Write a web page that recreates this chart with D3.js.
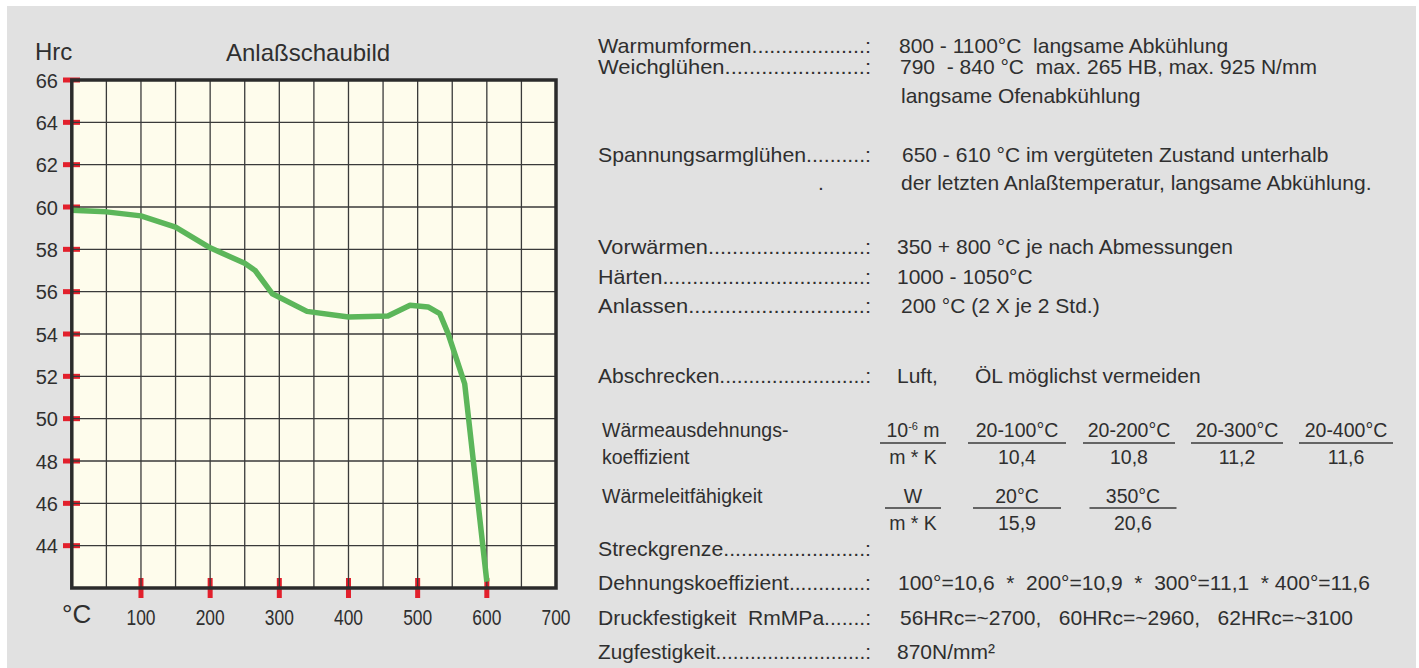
<!DOCTYPE html>
<meta charset="utf-8">
<style>
    body { margin: 0; background: #fff; }
    svg text { font-family: "Liberation Sans", Arial, sans-serif; fill: #2f2f2f; white-space: pre; }
</style>
<svg width="1419" height="668"></svg>
<script src="https://d3js.org/d3.v7.min.js"></script>
<script>
    // Anlaßschaubild: hardness (HRc) over tempering temperature
    var temps = [0, 50, 100, 150, 200, 250, 265, 290, 340, 400, 457, 489, 515, 532, 544, 556, 568, 600];
    var hrc = [59.85, 59.77, 59.58, 59.05, 58.07, 57.34, 57.0, 55.9, 55.07, 54.8, 54.85, 55.36, 55.28, 54.96, 54.02, 52.84, 51.65, 42.3];

    var xTickLabels = [100, 200, 300, 400, 500, 600, 700];
    var xRedTicks = [100, 200, 300, 400, 500, 600];
    var yTickLabels = [44, 46, 48, 50, 52, 54, 56, 58, 60, 62, 64, 66];

    // right hand text block
    var upperLabels = ["Warmumformen...................:", "Weichglühen.......................:", "", "Spannungsarmglühen..........:", "."];
    var upperValues = ["800 - 1100°C  langsame Abkühlung", "790  - 840 °C  max. 265 HB, max. 925 N/mm",
        "langsame Ofenabkühlung", "650 - 610 °C im vergüteten Zustand unterhalb",
        "der letzten Anlaßtemperatur, langsame Abkühlung."];
    var midLabels = ["Vorwärmen..........................:", "Härten..................................:",
        "Anlassen.............................:", "Abschrecken.........................:"];
    var midValues = ["350 + 800 °C je nach Abmessungen", "1000 - 1050°C", "200 °C (2 X je 2 Std.)", "Luft,"];
    var abschreckenNote = "ÖL möglichst vermeiden";

    var tableRowLabels = ["Wärmeausdehnungs-", "koeffizient", "Wärmeleitfähigkeit"];
    var expansionRanges = ["20-100°C", "20-200°C", "20-300°C", "20-400°C"];
    var expansionValues = ["10,4", "10,8", "11,2", "11,6"];
    var conductTemps = ["20°C", "350°C"];
    var conductValues = ["15,9", "20,6"];

    var lowerLabels = ["Streckgrenze........................:", "Dehnungskoeffizient.............:",
        "Druckfestigkeit  RmMPa.......:", "Zugfestigkeit..........................:"];
    var lowerValues = ["", "100°=10,6  *  200°=10,9  *  300°=11,1  * 400°=11,6",
        "56HRc=~2700,   60HRc=~2960,   62HRc=~3100", "870N/mm²"];

    var svg = d3.select("svg");

    svg.append("rect").attr("x", 7).attr("y", 6).attr("width", 1409).attr("height", 662).attr("fill", "#e1e1e1");

    // ---------- chart ----------
    var x = d3.scaleLinear().domain([0, 700]).range([71.8, 556]);
    var y = d3.scaleLinear().domain([42, 66]).range([588, 80]);

    svg.append("rect")
        .attr("x", x(0)).attr("y", y(66))
        .attr("width", x(700) - x(0)).attr("height", y(42) - y(66))
        .attr("fill", "#fefcec");

    var red = "#e2202c";
    svg.append("g").selectAll("rect")
        .data(yTickLabels)
        .enter().append("rect")
        .attr("x", 63).attr("y", function(d) { return y(d) - 2.5; })
        .attr("width", 17).attr("height", 5)
        .attr("fill", red);

    svg.append("g").selectAll("rect")
        .data(xRedTicks)
        .enter().append("rect")
        .attr("x", function(d) { return x(d) - 2.5; }).attr("y", 578)
        .attr("width", 5).attr("height", 20)
        .attr("fill", red);

    var grid = svg.append("g").attr("stroke", "#3a3a3a").attr("stroke-width", 1.3);
    grid.selectAll(".gx")
        .data(d3.range(50, 700, 50))
        .enter().append("line")
        .attr("x1", x).attr("x2", x)
        .attr("y1", y(66)).attr("y2", y(42));
    grid.selectAll(".gy")
        .data(d3.range(44, 66, 2))
        .enter().append("line")
        .attr("x1", x(0)).attr("x2", x(700))
        .attr("y1", y).attr("y2", y);

    var line = d3.line()
        .x(function(d) { return x(d[0]); })
        .y(function(d) { return y(d[1]); });

    svg.append("path")
        .datum(d3.zip(temps, hrc))
        .attr("d", line)
        .attr("fill", "none")
        .attr("stroke", "#5cb65a")
        .attr("stroke-width", 5.5)
        .attr("stroke-linejoin", "round");

    svg.append("rect")
        .attr("x", x(0)).attr("y", y(66))
        .attr("width", x(700) - x(0)).attr("height", y(42) - y(66))
        .attr("fill", "none").attr("stroke", "#2b2b2b").attr("stroke-width", 3.5);

    svg.append("g").selectAll("text")
        .data(yTickLabels)
        .enter().append("text")
        .attr("x", 58).attr("y", function(d) { return y(d) + 7.5; })
        .attr("text-anchor", "end")
        .style("font-size", "20px")
        .text(function(d) { return d; });

    svg.append("g").selectAll("text")
        .data(xTickLabels)
        .enter().append("text")
        .attr("x", function(d) { return x(d) - 14.5; }).attr("y", 625)
        .attr("textLength", 29).attr("lengthAdjust", "spacingAndGlyphs")
        .style("font-size", "22px")
        .text(function(d) { return d; });

    svg.append("text").attr("x", 35).attr("y", 60).style("font-size", "24px").text("Hrc");
    svg.append("text").attr("x", 226).attr("y", 61).style("font-size", "24px").text("Anlaßschaubild");
    svg.append("text").attr("x", 62).attr("y", 623).style("font-size", "26px").text("°C");

    // ---------- text block ----------
    var info = svg.append("g").style("font-size", "21px");

    function labelRows(labels, values, baselines, valueX) {
        labels.forEach(function(l, i) {
            if (l === ".") {
                info.append("text").attr("x", 818).attr("y", baselines[i]).text(l);
            } else if (l) {
                info.append("text").attr("x", 598).attr("y", baselines[i])
                    .attr("textLength", 273).attr("lengthAdjust", "spacingAndGlyphs").text(l);
            }
            if (values[i]) info.append("text").attr("x", valueX[i]).attr("y", baselines[i]).text(values[i]);
        });
    }

    labelRows(upperLabels, upperValues, [53, 74, 103, 162, 190], [899, 900, 901, 902, 901]);
    labelRows(midLabels, midValues, [254, 284, 313, 383], [897, 897, 901, 897]);
    info.append("text").attr("x", 975).attr("y", 383).text(abschreckenNote);
    labelRows(lowerLabels, lowerValues, [556, 590, 625, 659], [898, 898, 900, 897]);

    // table
    var tbl = svg.append("g").style("font-size", "19.5px");
    tbl.selectAll(".rl")
        .data(tableRowLabels)
        .enter().append("text")
        .attr("x", 602)
        .attr("y", function(d, i) { return [437, 464, 503][i]; })
        .text(function(d) { return d; });

    function fraction(cx, top, bottom, lineY, lineW, t1, t2) {
        var t = tbl.append("text").attr("x", cx).attr("y", top).attr("text-anchor", "middle");
        if (typeof t1 === "string") t.text(t1); else t1(t);
        tbl.append("text").attr("x", cx).attr("y", bottom).attr("text-anchor", "middle").text(t2);
        tbl.append("line").attr("x1", cx - lineW / 2).attr("x2", cx + lineW / 2)
            .attr("y1", lineY).attr("y2", lineY)
            .attr("stroke", "#3a3a3a").attr("stroke-width", 1.4);
    }

    fraction(913, 437, 464, 443, 66, function(t) {
        t.append("tspan").text("10");
        t.append("tspan").attr("dy", -7).style("font-size", "11px").text("-6");
        t.append("tspan").attr("dy", 7).text(" m");
    }, "m * K");
    fraction(913, 503, 530, 508, 56, "W", "m * K");

    var expCenters = [1017, 1129, 1237, 1346];
    var expWidths = [98, 92, 92, 94];
    expansionRanges.forEach(function(r, i) {
        fraction(expCenters[i], 437, 464, 443, expWidths[i], r, expansionValues[i]);
    });
    var condCenters = [1017, 1133];
    var condWidths = [88, 87];
    conductTemps.forEach(function(r, i) {
        fraction(condCenters[i], 503, 530, 508, condWidths[i], r, conductValues[i]);
    });
</script>
